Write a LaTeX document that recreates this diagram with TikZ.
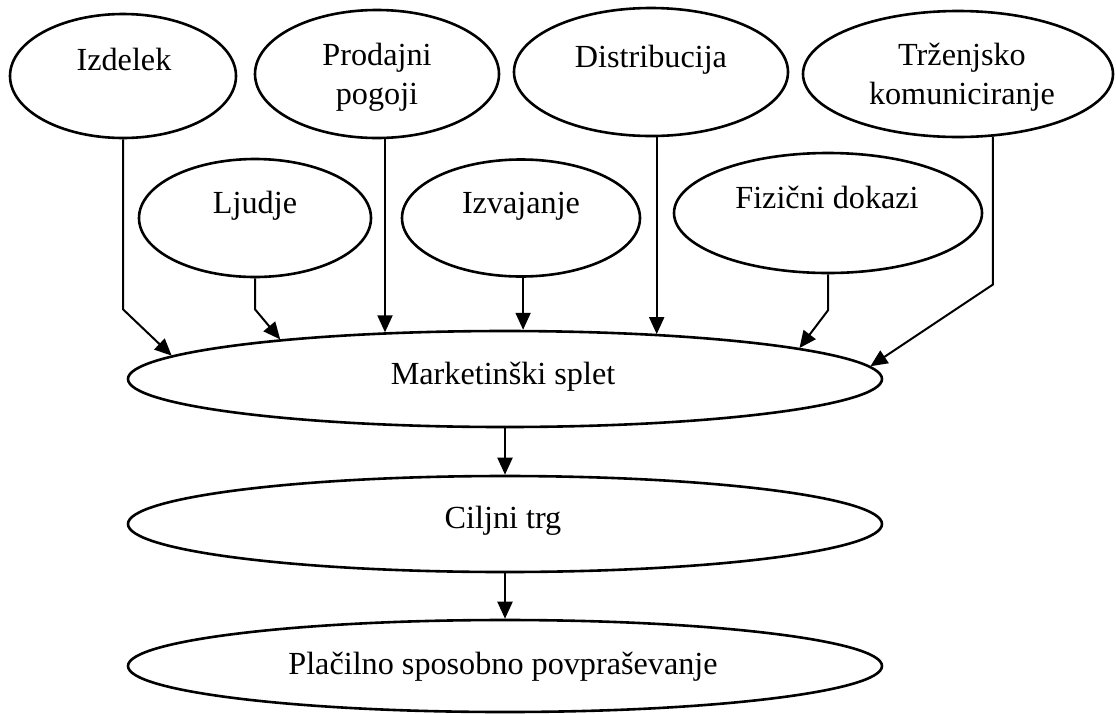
\documentclass[tikz,border=0pt]{standalone}
\usepackage{fontspec}
\setmainfont{Liberation Serif}
\usetikzlibrary{shapes.geometric,arrows.meta}
\begin{document}
\begin{tikzpicture}[x=1pt,y=-1pt,
  ell/.style={draw, ellipse, line width=2.6pt, inner sep=0pt},
  txt/.style={font=\fontsize{32.2}{39}\selectfont, inner sep=0pt, align=center},
  conn/.style={line width=2pt, -{Triangle[length=17pt,width=15pt]}}]
\useasboundingbox (0,0) rectangle (1116,713);
% top row
\node[ell, minimum width=226pt, minimum height=124pt] (izd) at (123,76) {};
\node[ell, minimum width=244pt, minimum height=128pt] (prod) at (377,74) {};
\node[ell, minimum width=274pt, minimum height=128pt] (dist) at (651,72) {};
\node[ell, minimum width=310pt, minimum height=126pt] (trz) at (958,74) {};
% second row
\node[ell, minimum width=232pt, minimum height=118pt] (lju) at (255,218) {};
\node[ell, minimum width=238pt, minimum height=117pt] (izv) at (521,218) {};
\node[ell, minimum width=308pt, minimum height=120pt] (fiz) at (828,213) {};
% bottom chain
\node[ell, minimum width=754pt, minimum height=96pt] (mk) at (505,379) {};
\node[ell, minimum width=754pt, minimum height=96pt] (cil) at (505,524) {};
\node[ell, minimum width=754pt, minimum height=92pt] (pla) at (505,666) {};
% texts
\node[txt, anchor=base] (izdT) at (124,70) {Izdelek};
\node[txt] (prodT) at (377,77) {Prodajni\\pogoji};
\node[txt, anchor=base] (distT) at (651,67) {Distribucija};
\node[txt] (trzT) at (962,77) {Trženjsko\\komuniciranje};
\node[txt, anchor=base] (ljuT) at (255,213) {Ljudje};
\node[txt, anchor=base] (izvT) at (521,213) {Izvajanje};
\node[txt, anchor=base] (fizT) at (827,208) {Fizični dokazi};
\node[txt, anchor=base] (mkT) at (503,384) {Marketinški splet};
\node[txt, anchor=base] (cilT) at (503,528) {Ciljni trg};
\node[txt, anchor=base] (plaT) at (503,674) {Plačilno sposobno povpraševanje};
% connectors into the marketing mix
\draw[conn] (izd.south) -- ++(0,170) -- (mk.176.5);
\draw[conn] (lju.south) -- ++(0,31) -- (mk.170.2);
\draw[conn] (prod.-83) -- (prod.-83 |- mk.159);
\draw[conn] (izv.-88) -- (izv.-88 |- mk.68.8);
\draw[conn] (dist.-85) -- (dist.-85 |- mk.16.8);
\draw[conn] (fiz.south) -- ++(0,36) -- (mk.6.5);
\draw[conn] (trz.-61) -- ++(0,148) -- (mk.2.7);
% chain
\draw[conn] (mk.south) -- (cil.north);
\draw[conn] (cil.south) -- (pla.north);
\end{tikzpicture}
\end{document}
